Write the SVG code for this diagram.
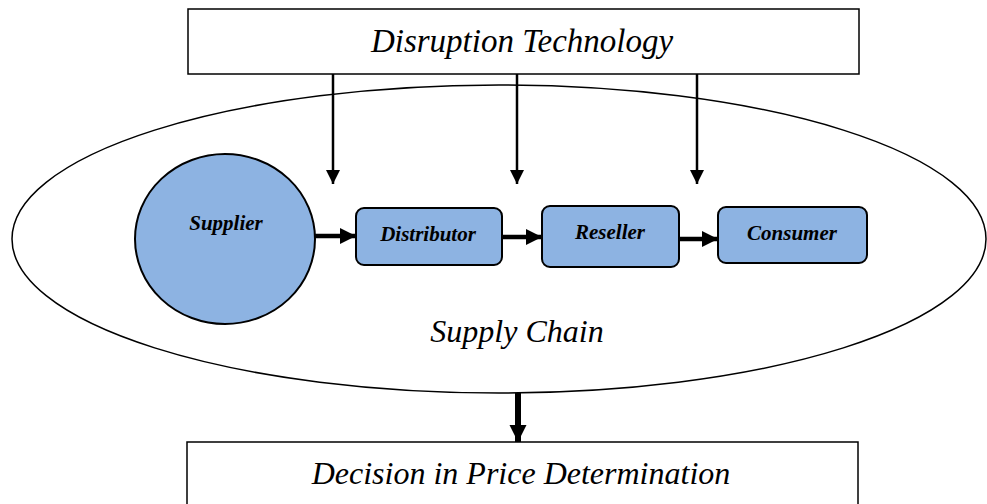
<svg xmlns="http://www.w3.org/2000/svg" width="987" height="504" viewBox="0 0 987 504">
<defs>
<style>
.box{fill:#fff;stroke:#000;stroke-width:1.5}
.node{fill:#8db3e2;stroke:#000;stroke-width:2}
.big{font-family:"Liberation Serif",serif;font-style:italic;font-size:33px;text-anchor:middle;fill:#000}
.lbl{font-family:"Liberation Serif",serif;font-style:italic;font-weight:bold;font-size:21px;text-anchor:middle;fill:#000}
.thin{stroke:#000;stroke-width:2.5;fill:none}
.thick{stroke:#000;stroke-width:4.5;fill:none}
</style>
<marker id="ah" viewBox="0 0 10 10" refX="10" refY="5" markerWidth="14" markerHeight="16" markerUnits="userSpaceOnUse" orient="auto">
<path d="M0,0 L10,5 L0,10 Z" fill="#000"/>
</marker>
<marker id="ah2" viewBox="0 0 10 10" refX="10" refY="5" markerWidth="16" markerHeight="16" markerUnits="userSpaceOnUse" orient="auto">
<path d="M0,0 L10,5 L0,10 Z" fill="#000"/>
</marker>
<marker id="ah3" viewBox="0 0 10 10" refX="10" refY="5" markerWidth="17" markerHeight="18" markerUnits="userSpaceOnUse" orient="auto">
<path d="M0,0 L10,5 L0,10 Z" fill="#000"/>
</marker>
</defs>
<g id="supply-chain">
<ellipse cx="499" cy="239" rx="487" ry="154" fill="#fff" stroke="#000" stroke-width="1.5"/>
<text class="big" x="517" y="342" style="font-size:32px">Supply Chain</text>
</g>
<g id="disruption">
<rect class="box" x="188" y="9" width="671" height="65"/>
<text class="big" x="522" y="52">Disruption Technology</text>
</g>
<g id="decision">
<rect class="box" x="187" y="442" width="671" height="70"/>
<text class="big" x="521" y="484" style="font-size:32px">Decision in Price Determination</text>
</g>
<g id="supplier">
<ellipse class="node" cx="225" cy="239" rx="90" ry="85"/>
<text class="lbl" x="226" y="230">Supplier</text>
</g>
<g id="distributor">
<rect class="node" x="356" y="208" width="146" height="57" rx="8"/>
<text class="lbl" x="428" y="241">Distributor</text>
</g>
<g id="reseller">
<rect class="node" x="542" y="206" width="137" height="61" rx="8"/>
<text class="lbl" x="610" y="239">Reseller</text>
</g>
<g id="consumer">
<rect class="node" x="718" y="207" width="149" height="56" rx="8"/>
<text class="lbl" x="792" y="240">Consumer</text>
</g>
<g id="connectors">
<line class="thin" x1="333" y1="74" x2="333" y2="184" marker-end="url(#ah)"/>
<line class="thin" x1="517" y1="74" x2="517" y2="184" marker-end="url(#ah)"/>
<line class="thin" x1="697" y1="74" x2="697" y2="184" marker-end="url(#ah)"/>
<line class="thick" x1="315" y1="236" x2="356" y2="236" marker-end="url(#ah2)"/>
<line class="thick" x1="502" y1="237" x2="542" y2="237" marker-end="url(#ah2)"/>
<line class="thick" x1="679" y1="239" x2="718" y2="239" marker-end="url(#ah2)"/>
<line class="thick" x1="518" y1="393" x2="518" y2="442" marker-end="url(#ah3)" style="stroke-width:6"/>
</g>
</svg>
